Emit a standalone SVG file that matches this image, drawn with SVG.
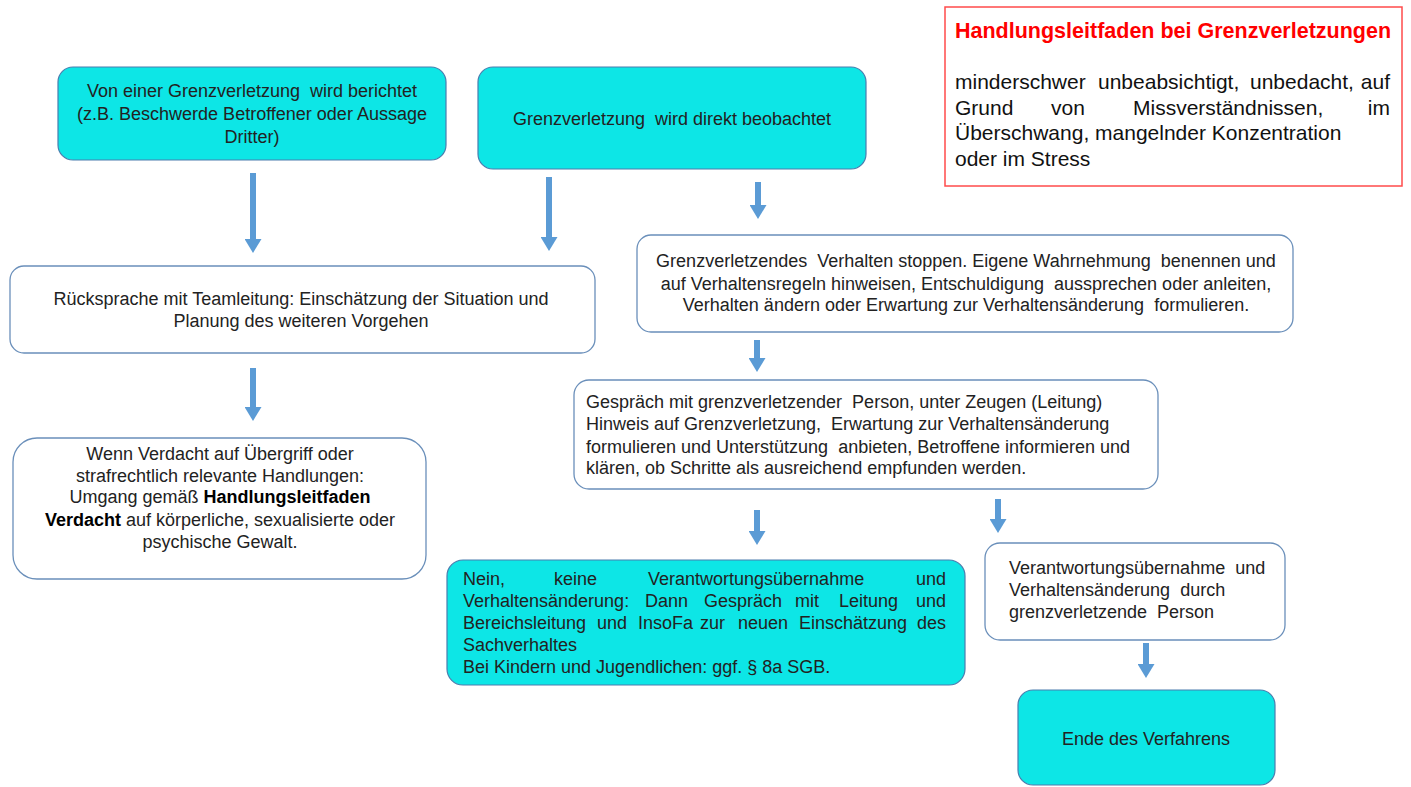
<svg xmlns="http://www.w3.org/2000/svg" width="1411" height="787" viewBox="0 0 1411 787">
<defs>
<marker id="ah" markerUnits="userSpaceOnUse" markerWidth="14" markerHeight="17" viewBox="0 0 14 17" refX="0" refY="8.5" orient="auto">
<path d="M0,0 L14,8.5 L0,17 z" fill="#5B9BD5"/>
</marker>
<style>
.cy{fill:#0DE6E6;stroke:#4A7DAE;stroke-width:1.2}
.wh{fill:#FFFFFF;stroke:#6A8FBA;stroke-width:1.3}
.t{font-family:"Liberation Sans",Arial,sans-serif;font-size:18px;fill:#222222;white-space:pre}
.c{text-anchor:middle}
.e{text-anchor:end}
.r{font-family:"Liberation Sans",Arial,sans-serif;font-size:21px;fill:#111111;white-space:pre}
.ttl{font-family:"Liberation Sans",Arial,sans-serif;font-size:21.5px;font-weight:bold;fill:#FF0000}
.ar{stroke:#5B9BD5;stroke-width:6;fill:none}
</style>
</defs>
<rect width="1411" height="787" fill="#FFFFFF"/>

<g id="connectors">
<line class="ar" x1="253" y1="173" x2="253" y2="239" marker-end="url(#ah)"/>
<line class="ar" x1="549" y1="177" x2="549" y2="237" marker-end="url(#ah)"/>
<line class="ar" x1="758" y1="182" x2="758" y2="205" marker-end="url(#ah)"/>
<line class="ar" x1="253" y1="368" x2="253" y2="407" marker-end="url(#ah)"/>
<line class="ar" x1="757" y1="340" x2="757" y2="358" marker-end="url(#ah)"/>
<line class="ar" x1="757" y1="510" x2="757" y2="531" marker-end="url(#ah)"/>
<line class="ar" x1="998" y1="499" x2="998" y2="519" marker-end="url(#ah)"/>
<line class="ar" x1="1146" y1="643" x2="1146" y2="664" marker-end="url(#ah)"/>
</g>

<g id="info">
<rect x="945" y="7" width="457" height="179" fill="#FFFFFF" stroke="#FF4B4B" stroke-width="1.5"/>
<text class="ttl" x="955" y="38">Handlungsleitfaden bei Grenzverletzungen</text>
<text class="r" y="89"><tspan x="955">minderschwer</tspan><tspan x="1098">unbeabsichtigt,</tspan><tspan x="1250">unbedacht,</tspan><tspan x="1390" text-anchor="end">auf</tspan></text>
<text class="r" y="115"><tspan x="955">Grund</tspan><tspan x="1051">von</tspan><tspan x="1133">Missverständnissen,</tspan><tspan x="1390" text-anchor="end">im</tspan></text>
<text class="r" x="955" y="140">Überschwang, mangelnder Konzentration</text>
<text class="r" x="955" y="166">oder im Stress</text>
</g>

<g id="n1">
<rect class="cy" x="58" y="67" width="388" height="93" rx="15"/>
<text class="t c" x="252" y="97">Von einer Grenzverletzung  wird berichtet</text>
<text class="t c" x="252" y="120">(z.B. Beschwerde Betroffener oder Aussage</text>
<text class="t c" x="252" y="143">Dritter)</text>
</g>

<g id="n2">
<rect class="cy" x="478" y="67" width="388" height="102" rx="15"/>
<text class="t c" x="672" y="125">Grenzverletzung  wird direkt beobachtet</text>
</g>

<g id="n3">
<rect class="wh" x="10" y="266" width="585" height="87" rx="14"/>
<text class="t c" x="301" y="305">Rücksprache mit Teamleitung: Einschätzung der Situation und</text>
<text class="t c" x="301" y="327">Planung des weiteren Vorgehen</text>
</g>

<g id="n4">
<rect class="wh" x="637" y="235" width="656" height="97" rx="14"/>
<text class="t c" x="966" y="267">Grenzverletzendes  Verhalten stoppen. Eigene Wahrnehmung  benennen und</text>
<text class="t c" x="966" y="290">auf Verhaltensregeln hinweisen, Entschuldigung  aussprechen oder anleiten,</text>
<text class="t c" x="966" y="311">Verhalten ändern oder Erwartung zur Verhaltensänderung  formulieren.</text>
</g>

<g id="n5">
<rect class="wh" x="13" y="438" width="413" height="141" rx="24"/>
<text class="t c" x="220" y="460">Wenn Verdacht auf Übergriff oder</text>
<text class="t c" x="220" y="482">strafrechtlich relevante Handlungen:</text>
<text class="t c" x="220" y="503">Umgang gemäß <tspan font-weight="bold" fill="#000000">Handlungsleitfaden</tspan></text>
<text class="t c" x="220" y="526"><tspan font-weight="bold" fill="#000000">Verdacht</tspan> auf körperliche, sexualisierte oder</text>
<text class="t c" x="220" y="548">psychische Gewalt.</text>
</g>

<g id="n6">
<rect class="wh" x="574" y="380" width="584" height="109" rx="15"/>
<text class="t" x="586" y="408">Gespräch mit grenzverletzender  Person, unter Zeugen (Leitung)</text>
<text class="t" x="586" y="430">Hinweis auf Grenzverletzung,  Erwartung zur Verhaltensänderung</text>
<text class="t" x="586" y="453">formulieren und Unterstützung  anbieten, Betroffene informieren und</text>
<text class="t" x="586" y="474">klären, ob Schritte als ausreichend empfunden werden.</text>
</g>

<g id="n7">
<rect class="cy" x="447" y="560" width="518" height="125" rx="16"/>
<text class="t" y="585"><tspan x="463">Nein,</tspan><tspan x="554">keine</tspan><tspan x="648">Verantwortungsübernahme</tspan><tspan x="946" text-anchor="end">und</tspan></text>
<text class="t" y="607"><tspan x="463">Verhaltensänderung:</tspan><tspan x="645">Dann</tspan><tspan x="704">Gespräch</tspan><tspan x="795">mit</tspan><tspan x="839">Leitung</tspan><tspan x="946" text-anchor="end">und</tspan></text>
<text class="t" y="629"><tspan x="463">Bereichsleitung</tspan><tspan x="597">und</tspan><tspan x="638">InsoFa</tspan><tspan x="700">zur</tspan><tspan x="738">neuen</tspan><tspan x="799">Einschätzung</tspan><tspan x="946" text-anchor="end">des</tspan></text>
<text class="t" x="463" y="651">Sachverhaltes</text>
<text class="t" x="463" y="673">Bei Kindern und Jugendlichen: ggf. § 8a SGB.</text>
</g>

<g id="n8">
<rect class="wh" x="985" y="543" width="300" height="97" rx="15"/>
<text class="t" x="1009" y="574">Verantwortungsübernahme  und</text>
<text class="t" x="1009" y="596">Verhaltensänderung  durch</text>
<text class="t" x="1009" y="618">grenzverletzende  Person</text>
</g>

<g id="n9">
<rect class="cy" x="1018" y="690" width="257" height="95" rx="15"/>
<text class="t c" x="1146" y="745">Ende des Verfahrens</text>
</g>
</svg>
